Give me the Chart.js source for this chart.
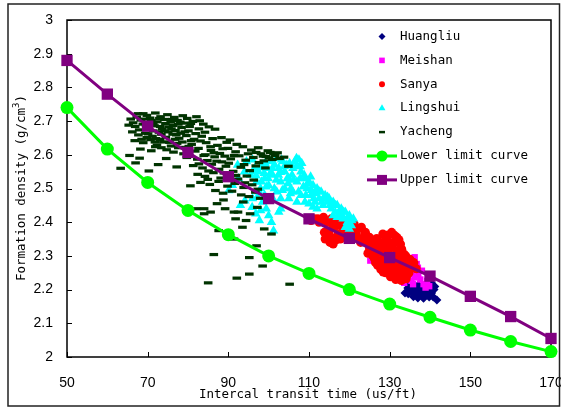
<!DOCTYPE html>
<html>
<head>
<meta charset="utf-8">
<script src="https://cdn.jsdelivr.net/npm/chart.js@4.4.1/dist/chart.umd.min.js"></script>
<style>
  body { margin: 0; background: #fff; }
  #wrap { width: 561px; height: 410px; }
</style>
</head>
<body>
<div id="wrap"><canvas id="densityChart" width="561" height="410"></canvas></div>
<script>
// limit curves
const curveX = [50, 60, 70, 80, 90, 100, 110, 120, 130, 140, 150, 160, 170];
const lowerY = [2.74, 2.617, 2.518, 2.435, 2.363, 2.30, 2.248, 2.20, 2.157, 2.118, 2.08, 2.046, 2.016];
const upperY = [2.88, 2.78, 2.685, 2.607, 2.535, 2.47, 2.41, 2.352, 2.295, 2.24, 2.18, 2.12, 2.055];

const xTicks = [50, 70, 90, 110, 130, 150, 170];
const yTicks = [2, 2.1, 2.2, 2.3, 2.4, 2.5, 2.6, 2.7, 2.8, 2.9, 3];

// well data, [transit time, density]
const huangliu = [
  [134.2,2.238],[135,2.219],[133.8,2.19],[136.3,2.194],[137.5,2.184],[139.2,2.184],[140.4,2.19],
  [141.2,2.209],[140.4,2.219],[141.7,2.169],[138.8,2.204],[137.1,2.214],[135.9,2.179],[138.4,2.174],
  [135,2.248],[135.9,2.258],[136.5,2.205],[137.5,2.2],[139.5,2.195],[138,2.19],[136,2.21],
  [134.5,2.205],[137,2.175],[139.8,2.178],[141,2.2],[140,2.205],
  [135.4,2.2],[136.8,2.19],[138.6,2.185],[137.8,2.196],[139,2.212],[136.2,2.186],[134.6,2.188],
  [140.8,2.178],[138.2,2.178]
];
const meishan = [
  [125.2,2.286],[133.1,2.31],[136.2,2.296],[136.7,2.276],[138,2.256],[136.2,2.236],[135.4,2.226],
  [138.4,2.216],[139.3,2.226],[137.1,2.246],[134.5,2.236],[130,2.256],[129.1,2.25],[137.6,2.23],
  [139.8,2.21],[138.9,2.206],[135.8,2.216],[133.6,2.22],[137,2.265],[135.5,2.245]
];
const sanya = [
  [110.5,2.405],[111.4,2.41],[112.5,2.4],[113.6,2.415],[114.5,2.4],[115.5,2.41],[116.3,2.405],
  [117,2.39],[115,2.375],[116,2.385],[117.2,2.365],[118.5,2.375],[115.5,2.355],[116,2.335],
  [114.5,2.36],[117.8,2.35],[118.8,2.36],[119.3,2.385],
  [120.5,2.37],[121.2,2.395],[122,2.38],[123,2.385],[123.8,2.365],[122,2.355],[124.3,2.345],
  [121,2.36],[122.8,2.34],[124,2.37],[125,2.355],[125.6,2.33],[126.3,2.34],
  [127,2.325],[128.3,2.365],[129,2.35],[130.5,2.37],[131.8,2.355],[130,2.34],[132.7,2.335],
  [128,2.31],[129.1,2.316],[131.8,2.316],[133,2.32],[126.5,2.305],[127.4,2.286],[128.7,2.27],
  [130,2.286],[131,2.3],[132.7,2.296],[134,2.3],[130,2.256],[130.9,2.266],[130.9,2.246],
  [132,2.27],[133.6,2.256],[134.5,2.276],[135.4,2.266],[132.7,2.236],[134.5,2.246],[129,2.25],
  [127.8,2.26],[126.5,2.28],[125.8,2.3],[133.6,2.305],[135,2.29],[136,2.28],[131.5,2.23],
  [133,2.285],[129.5,2.3],[128.5,2.29],[131,2.28],[127.5,2.34],[129.5,2.33],
  [126.8,2.352],[127.9,2.338],[128.6,2.326],[129.8,2.318],[130.6,2.329],[131.4,2.342],[132.3,2.348],
  [131.2,2.361],[129.6,2.362],[128.9,2.341],[127.2,2.312],[126.2,2.292],[127,2.272],[128,2.281],
  [129.2,2.276],[130.4,2.296],[131.6,2.292],[132.4,2.306],[133.4,2.27],[134.2,2.262],[133.1,2.246],
  [131.9,2.252],[130.2,2.238],[129.4,2.262],[128.4,2.252],[131.2,2.265],[132.2,2.282],[134.8,2.25],
  [135.6,2.282],[133.9,2.288],[126,2.318],[125,2.322],[124.6,2.308],[123.5,2.35],[119.8,2.352],
  [121.7,2.372],[118.2,2.395],[113,2.405],[116.8,2.348],[115.2,2.34],[114,2.35],[113.8,2.37],
  [112.2,2.41],[136.6,2.262],[134.1,2.232],[132.9,2.227]
];
const lingshui = [
  [95.5,2.54],[96.5,2.56],[97,2.52],[97.5,2.55],[98,2.5],[98.5,2.57],[99,2.53],[99.5,2.56],
  [100,2.51],[100.5,2.58],[101,2.54],[101.5,2.57],
  [102,2.59],[102.5,2.56],[103,2.52],[103.5,2.58],[104,2.55],[104.5,2.57],[105,2.53],[105.5,2.5],
  [106,2.56],[106.5,2.58],[107,2.52],[107.5,2.585],[108,2.55],[108.2,2.575],[102,2.49],[103,2.47],
  [104,2.5],[105,2.47],[106,2.49],[107,2.46],[108,2.48],[101,2.47],[100,2.47],[99,2.48],[98.5,2.46],
  [109,2.53],[109.5,2.5],[110,2.52],[110.5,2.48],[111,2.51],[111.5,2.46],[112,2.5],[112.5,2.47],
  [113,2.49],[113.5,2.45],[109,2.46],[110,2.455],[111,2.445],[112,2.44],[114,2.48],[114.5,2.46],
  [115,2.47],[115.5,2.44],[116,2.46],[116.5,2.43],[117,2.45],[117.5,2.42],[118,2.44],[118.5,2.41],
  [119,2.43],[119.5,2.4],[120,2.42],[120.5,2.39],[121,2.41],[120,2.38],[119,2.385],[117,2.415],[116,2.42],
  [90.1,2.494],[91,2.51],[92.5,2.53],[94,2.55],[94.1,2.464],[95.9,2.444],[96.8,2.425],[97.7,2.405],
  [100.7,2.4],[101.2,2.375],[99.4,2.44],[102.5,2.43],[97.2,2.474],[98,2.435],[100,2.42],[103,2.44],
  [96,2.47],[93,2.45],[92.3,2.57],[94.5,2.58],[96,2.585],
  [96.9,2.538],[97.9,2.562],[98.9,2.545],[99.9,2.53],[100.9,2.56],[101.9,2.525],[102.9,2.548],[103.9,2.565],
  [104.8,2.515],[105.8,2.54],[106.8,2.565],[107.8,2.53],[108.6,2.505],[109.6,2.515],[110.6,2.495],[111.6,2.485],
  [112.6,2.49],[113.6,2.47],[114.6,2.475],[115.6,2.455],[116.6,2.45],[117.6,2.435],[118.6,2.43],[119.6,2.415],
  [120.6,2.405],[119.8,2.395],[118.2,2.42],[115.2,2.45],[113.2,2.46],[111.2,2.47],[109.2,2.48],[107.4,2.49],
  [105.4,2.485],[103.4,2.495],[101.4,2.5],[99.4,2.505],[97.6,2.49],[104.6,2.53],[106.2,2.525],[108.8,2.54],
  [110.4,2.535],[102.4,2.54],[100.4,2.545],[98.2,2.52],[107.8,2.565],[105.2,2.575],[103.2,2.585],[106.9,2.59],
  [99.1,2.575],[96.2,2.55]
];
const yacheng = [
  [67.6,2.722],[69.8,2.717],[71.9,2.724],[73.2,2.713],[74.9,2.719],[76.6,2.711],[78.7,2.716],[82.1,2.713],
  [65.8,2.706],[68.3,2.703],[70.6,2.709],[72.4,2.698],[74.1,2.705],[75.7,2.697],[77.4,2.702],[79.3,2.694],
  [81.2,2.699],[83.8,2.691],
  [65.3,2.688],[66.9,2.684],[68.8,2.691],[70.2,2.679],[71.7,2.686],[73.6,2.676],[75.2,2.683],[76.9,2.672],
  [78.4,2.681],[80.1,2.671],[82.7,2.677],[85.2,2.683],
  [66.2,2.668],[67.7,2.659],[69.4,2.664],[71.2,2.655],[72.8,2.667],[74.5,2.652],[76.2,2.661],[77.8,2.649],
  [79.6,2.657],[81.5,2.646],[83.4,2.655],[86.1,2.648],
  [66.8,2.642],[68.9,2.636],[70.7,2.645],[72.3,2.629],[73.9,2.638],[75.8,2.626],[77.3,2.634],[79.1,2.622],
  [80.9,2.631],[82.6,2.619],[84.5,2.636],[87.3,2.628],[89.6,2.637],[92.1,2.631],
  [68.2,2.617],[70.9,2.612],[73.4,2.621],[76.4,2.608],[78.9,2.603],[81.8,2.611],[83.9,2.598],[85.7,2.613],
  [87.9,2.604],[89.9,2.619],[91.8,2.609],[93.6,2.624],[95.7,2.614],[97.4,2.621],
  [79.7,2.592],[82.3,2.587],[84.8,2.583],[86.6,2.594],[88.4,2.579],[90.6,2.588],[92.7,2.597],[94.3,2.584],
  [96.2,2.592],[98.1,2.603],[99.3,2.595],[100.4,2.607],[101.6,2.598],[102.7,2.589],[98.8,2.582],[100.9,2.586],
  [103.8,2.593],[97.6,2.577],
  [81.3,2.568],[83.6,2.561],[85.9,2.572],[87.7,2.557],[89.4,2.566],[91.2,2.551],[93.1,2.563],[95.3,2.553],
  [96.8,2.567],[99.2,2.561],[104.9,2.566],
  [82.4,2.542],[84.2,2.536],[86.3,2.547],[88.1,2.531],[90.2,2.541],[92.4,2.528],[94.6,2.537],[96.3,2.525],
  [83.1,2.518],[85.4,2.512],[87.6,2.521],[89.8,2.507],[91.6,2.515],[93.8,2.503],[95.9,2.511],[97.3,2.498],
  [80.6,2.508],[86.8,2.494],[88.7,2.486],[90.9,2.492],[93.2,2.481],[95.1,2.476],[96.7,2.489],[97.9,2.471],
  [63.3,2.56],[67,2.576],[68,2.59],[65.5,2.598],[70.3,2.552],[72.6,2.571],[77.2,2.564],[74.6,2.589],
  [69.1,2.706],[71.4,2.693],[73.1,2.684],[75.1,2.668],[77.6,2.691],[70.1,2.662],[72.1,2.648],[74.2,2.671],
  [76.3,2.687],[78.2,2.664],[80.4,2.684],[79.8,2.708],[68.5,2.646],[80.8,2.642],[84.2,2.667],[82.9,2.701],
  [86.7,2.676],[88.3,2.651],[90.4,2.644],
  [66.4,2.695],[67.3,2.712],[68.9,2.722],[70.9,2.702],[72.9,2.708],[74.4,2.693],[76.1,2.705],[78.1,2.697],
  [80.7,2.693],[67.9,2.674],[69.6,2.686],[71.4,2.671],[73.4,2.661],[75.9,2.677],[77.1,2.659],[79.2,2.668],
  [81.9,2.663],[83.1,2.641],[69.8,2.651],[71.8,2.638],[73.1,2.645],[75.4,2.637],[76.8,2.646],[78.6,2.638],
  [80.2,2.625],[85.6,2.624],[88.6,2.618],[74.7,2.615],[77.6,2.621],[71.9,2.624],[86.4,2.606],[89.1,2.596],
  [91.4,2.598],[94.9,2.603],[99.8,2.612],[101.2,2.603],[98.6,2.596],[100.1,2.591],[102.2,2.606],[96.9,2.607],
  [84.3,2.6],[82.7,2.573],[87.1,2.581],[90.1,2.575],[93.9,2.571],[85.1,2.552],[88.9,2.546],[91.9,2.539],
  [84.9,2.527],[90.7,2.524],[94.1,2.517],
  [88.8,2.466],[93.7,2.46],[87.2,2.455],[82,2.44],[84,2.44],[85.6,2.43],[89.2,2.44],[91.4,2.43],
  [92.4,2.43],[95.4,2.425],[97.2,2.444],[84,2.425],[94.4,2.405],[93.5,2.385],[91.8,2.41],
  [87.6,2.375],[91.4,2.35],[98.9,2.38],[100.7,2.365],[97,2.33],[86.4,2.304],[95.2,2.295],
  [98.5,2.27],[95.2,2.246],[92.1,2.234],[85,2.22],[105.2,2.216]
];

const toPts = arr => arr.map(p => ({ x: p[0], y: p[1] }));
const curvePts = ys => curveX.map((x, i) => ({ x: x, y: ys[i] }));

function scatterSet(label, data, color, style, r, order) {
  return {
    type: 'scatter', label: label, data: toPts(data), order: order,
    pointStyle: style, pointRadius: r, pointBackgroundColor: color,
    pointBorderColor: color, pointBorderWidth: style === 'line' ? 3.2 : 0,
    showLine: false, clip: false
  };
}

const datasets = [
  scatterSet('Huangliu', huangliu, '#000080', 'rectRot', 4.5, 7),
  scatterSet('Meishan', meishan, '#ff00ff', 'rect', 4.5, 6),
  scatterSet('Sanya', sanya, '#ff0000', 'circle', 4.5, 5),
  scatterSet('Lingshui', lingshui, '#00ffff', 'triangle', 5.5, 4),
  scatterSet('Yacheng', yacheng, '#003300', 'line', 4.3, 3),
  {
    type: 'line', label: 'Lower limit curve', data: curvePts(lowerY), order: 2,
    borderColor: '#00ff00', borderWidth: 3, pointStyle: 'circle', pointRadius: 6.5,
    pointBackgroundColor: '#00ff00', pointBorderWidth: 0, tension: 0, clip: false
  },
  {
    type: 'line', label: 'Upper limit curve', data: curvePts(upperY), order: 1,
    borderColor: '#800080', borderWidth: 3, pointStyle: 'rect', pointRadius: 8,
    pointBackgroundColor: '#800080', pointBorderWidth: 0, tension: 0, clip: false
  }
];

const monoFont = '12.5px "DejaVu Sans Mono"';

function drawMark(ctx, style, x, y, r, color) {
  ctx.fillStyle = color;
  ctx.strokeStyle = color;
  ctx.beginPath();
  if (style === 'circle') {
    ctx.arc(x, y, r, 0, Math.PI * 2);
  } else if (style === 'rect') {
    ctx.rect(x - r, y - r, 2 * r, 2 * r);
  } else if (style === 'rectRot') {
    ctx.moveTo(x - r, y); ctx.lineTo(x, y - r); ctx.lineTo(x + r, y); ctx.lineTo(x, y + r);
    ctx.closePath();
  } else if (style === 'triangle') {
    ctx.moveTo(x, y - r); ctx.lineTo(x + r * 0.87, y + r * 0.5); ctx.lineTo(x - r * 0.87, y + r * 0.5);
    ctx.closePath();
  } else if (style === 'line') {
    ctx.lineWidth = 2.5;
    ctx.moveTo(x - r, y); ctx.lineTo(x + r, y);
    ctx.stroke();
    return;
  }
  ctx.fill();
}

const legendItems = [
  { text: 'Huangliu', style: 'rectRot', r: 3.5, color: '#000080' },
  { text: 'Meishan', style: 'rect', r: 2.8, color: '#ff00ff' },
  { text: 'Sanya', style: 'circle', r: 3, color: '#ff0000' },
  { text: 'Lingshui', style: 'triangle', r: 4, color: '#00ffff' },
  { text: 'Yacheng', style: 'line', r: 3, color: '#003300' },
  { text: 'Lower limit curve', style: 'circle', r: 5.5, color: '#00ff00', line: true },
  { text: 'Upper limit curve', style: 'rect', r: 5, color: '#800080', line: true }
];

const decorations = {
  id: 'decorations',
  beforeDatasetsDraw(chart) {
    const { ctx, chartArea: a, scales: { x, y } } = chart;
    ctx.save();
    ctx.strokeStyle = '#000';
    ctx.lineWidth = 1.5;
    ctx.strokeRect(a.left, a.top, a.right - a.left, a.bottom - a.top);
    ctx.lineWidth = 1;
    ctx.beginPath();
    xTicks.forEach(v => {
      const px = Math.round(x.getPixelForValue(v)) + 0.5;
      ctx.moveTo(px, a.bottom); ctx.lineTo(px, a.bottom - 5);
    });
    yTicks.forEach(v => {
      const py = Math.round(y.getPixelForValue(v)) + 0.5;
      ctx.moveTo(a.left, py); ctx.lineTo(a.left + 5, py);
    });
    ctx.stroke();
    ctx.restore();
  },
  afterDraw(chart) {
    const ctx = chart.ctx;
    ctx.save();
    // outer frame
    ctx.strokeStyle = '#222';
    ctx.lineWidth = 1.5;
    ctx.strokeRect(8, 4, 551.5, 402);

    // axis titles
    ctx.fillStyle = '#000';
    ctx.font = monoFont;
    ctx.textAlign = 'center';
    ctx.textBaseline = 'middle';
    ctx.fillText('Intercal transit time (us/ft)', 308, 395);

    ctx.translate(22, 188);
    ctx.rotate(-Math.PI / 2);
    const t1 = 'Formation density (g/cm', t3 = ')';
    const w1 = ctx.measureText(t1).width;
    const w3 = ctx.measureText(t3).width;
    ctx.font = '9px "DejaVu Sans Mono"';
    const w2 = ctx.measureText('3').width;
    const start = -(w1 + w2 + w3) / 2;
    ctx.textAlign = 'left';
    ctx.font = monoFont;
    ctx.fillText(t1, start, 0);
    ctx.font = '9px "DejaVu Sans Mono"';
    ctx.fillText('3', start + w1, -5);
    ctx.font = monoFont;
    ctx.fillText(t3, start + w1 + w2, 0);
    ctx.restore();

    // legend
    ctx.save();
    ctx.font = monoFont;
    ctx.textAlign = 'left';
    ctx.textBaseline = 'middle';
    legendItems.forEach((it, i) => {
      const ly = 36.5 + i * 23.9;
      if (it.line) {
        ctx.strokeStyle = it.color;
        ctx.lineWidth = 3;
        ctx.beginPath();
        ctx.moveTo(367, ly); ctx.lineTo(397, ly);
        ctx.stroke();
      }
      drawMark(ctx, it.style, 382, ly, it.r, it.color);
      ctx.fillStyle = '#000';
      ctx.fillText(it.text, 400, ly);
    });
    ctx.restore();
  }
};

const tickFont = { family: '"Liberation Sans", Arial, sans-serif', size: 14 };

new Chart(document.getElementById('densityChart'), {
  data: { datasets: datasets },
  options: {
    responsive: false,
    animation: false,
    events: [],
    layout: { padding: { left: 0, top: 20, right: 10, bottom: 0 } },
    plugins: { legend: { display: false }, tooltip: { enabled: false } },
    scales: {
      x: {
        type: 'linear', min: 50, max: 170,
        grid: { display: false }, border: { display: false },
        ticks: { stepSize: 20, font: tickFont, color: '#000', padding: 10, maxRotation: 0 },
        afterFit(scale) { scale.height = 53; scale.paddingLeft = 0; scale.paddingRight = 0; }
      },
      y: {
        type: 'linear', min: 2, max: 3,
        grid: { display: false }, border: { display: false },
        ticks: {
          stepSize: 0.1, font: tickFont, color: '#000', padding: 6,
          callback: v => String(Math.round(v * 10) / 10)
        },
        afterFit(scale) { scale.width = 67; scale.paddingTop = 0; scale.paddingBottom = 0; }
      }
    }
  },
  plugins: [decorations]
});
</script>
</body>
</html>
